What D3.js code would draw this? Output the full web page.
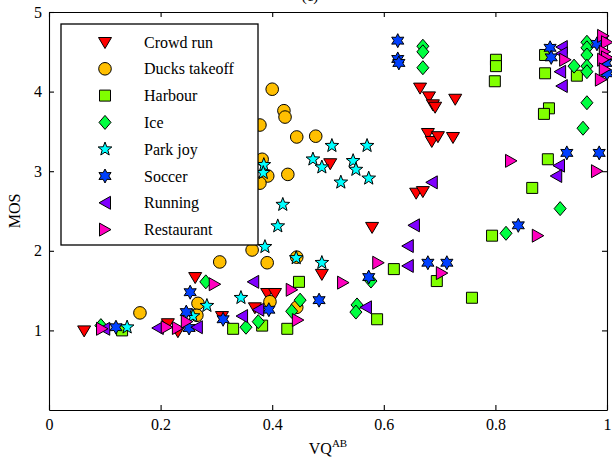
<!DOCTYPE html>
<html>
<head>
<meta charset="utf-8">
<script src="https://cdn.jsdelivr.net/npm/d3@7"></script>
<style>
  html, body { margin: 0; padding: 0; background: #fff; }
  svg { display: block; font-family: 'Liberation Serif', 'Times New Roman', serif; }
  .axis path, .axis line { stroke: #000; stroke-width: 1.1; }
  .axis text { font-size: 16px; fill: #000; font-family: 'Liberation Serif', 'Times New Roman', serif; }
</style>
</head>
<body>
<svg id="chart" width="612" height="463"></svg>
<script>
// series names, in legend order
const categories = ['Crowd run', 'Ducks takeoff', 'Harbour', 'Ice', 'Park joy', 'Soccer', 'Running', 'Restaurant']

// [VQ^AB, MOS] pairs
const crowdRun = [
  [0.063, 1.00], [0.213, 1.09], [0.231, 0.99], [0.262, 1.67], [0.310, 1.18], [0.369, 1.29],
  [0.391, 1.47], [0.405, 1.47], [0.489, 1.71], [0.504, 3.10], [0.579, 2.30], [0.665, 4.05],
  [0.681, 3.94], [0.688, 3.84], [0.692, 3.81], [0.728, 3.91], [0.679, 3.48], [0.686, 3.38],
  [0.697, 3.44], [0.724, 3.43], [0.658, 2.73], [0.670, 2.75]
]
const ducksTakeoff = [
  [0.163, 1.22], [0.267, 1.34], [0.265, 1.19], [0.306, 1.86], [0.364, 2.01], [0.391, 1.85],
  [0.444, 1.92], [0.396, 1.36], [0.444, 1.29], [0.378, 3.58], [0.400, 4.03], [0.421, 3.76],
  [0.423, 3.68], [0.444, 3.43], [0.478, 3.44], [0.382, 3.15], [0.392, 2.94], [0.378, 2.85],
  [0.428, 2.96]
]
const harbour = [
  [0.131, 1.00], [0.330, 1.02], [0.382, 1.06], [0.427, 1.02], [0.448, 1.61], [0.588, 1.14],
  [0.618, 1.77], [0.695, 1.62], [0.758, 1.41], [0.794, 2.19], [0.866, 2.79], [0.894, 3.15],
  [0.801, 4.40], [0.801, 4.32], [0.799, 4.13], [0.889, 4.46], [0.889, 4.23], [0.946, 4.20],
  [0.896, 3.79], [0.887, 3.72]
]
const ice = [
  [0.093, 1.06], [0.281, 1.61], [0.353, 1.04], [0.375, 1.11], [0.450, 1.38], [0.435, 1.24],
  [0.552, 1.32], [0.550, 1.23], [0.577, 1.62], [0.670, 4.57], [0.670, 4.50], [0.670, 4.30],
  [0.941, 4.32], [0.964, 4.62], [0.964, 4.55], [0.964, 4.46], [0.964, 4.32], [0.964, 4.25],
  [0.964, 3.86], [0.957, 3.54], [0.819, 2.22], [0.916, 2.53]
]
const parkJoy = [
  [0.140, 1.04], [0.258, 1.18], [0.283, 1.31], [0.344, 1.41], [0.387, 2.05], [0.410, 2.31],
  [0.419, 2.58], [0.443, 1.91], [0.489, 1.85], [0.385, 3.08], [0.384, 2.98], [0.473, 3.15],
  [0.489, 3.05], [0.507, 3.32], [0.545, 3.13], [0.550, 3.02], [0.523, 2.86], [0.570, 3.32],
  [0.573, 2.91]
]
const soccer = [
  [0.120, 1.04], [0.253, 1.48], [0.246, 1.23], [0.251, 1.03], [0.312, 1.14], [0.394, 1.26],
  [0.484, 1.38], [0.573, 1.67], [0.679, 1.85], [0.713, 1.85], [0.841, 2.32], [0.928, 3.23],
  [0.986, 3.23], [0.625, 4.64], [0.625, 4.41], [0.627, 4.36], [0.898, 4.55], [0.900, 4.43],
  [0.982, 4.60], [0.998, 4.36], [1.000, 4.23]
]
const running = [
  [0.099, 1.02], [0.195, 1.03], [0.265, 1.04], [0.346, 1.18], [0.366, 1.61], [0.375, 1.26],
  [0.568, 1.29], [0.643, 2.06], [0.643, 1.81], [0.686, 2.86], [0.654, 2.32], [0.914, 3.07],
  [0.909, 2.94], [0.919, 4.56], [0.919, 4.48], [0.916, 4.25], [0.919, 4.07]
]
const restaurant = [
  [0.095, 1.02], [0.211, 1.04], [0.231, 1.03], [0.247, 1.11], [0.297, 1.58], [0.435, 1.51],
  [0.446, 1.13], [0.527, 1.60], [0.590, 1.85], [0.704, 1.72], [0.828, 3.13], [0.876, 2.19],
  [0.982, 3.00], [0.925, 4.40], [0.993, 4.70], [1.000, 4.62], [0.996, 4.50], [1.000, 4.43],
  [0.993, 4.40], [0.996, 4.28], [0.989, 4.15]
]
const seriesValues = [crowdRun, ducksTakeoff, harbour, ice, parkJoy, soccer, running, restaurant]

const xTickValues = [0, 0.2, 0.4, 0.6, 0.8, 1]
const yTickValues = [1, 2, 3, 4, 5]

// hsv(8) colours and marker shapes, one per series
const colors = ['#ff0000', '#ffbf00', '#80ff00', '#00ff40', '#00ffff', '#0040ff', '#8000ff', '#ff00bf']
const shapes = ['down', 'circle', 'square', 'diamond', 'star5', 'star6', 'left', 'right']

const starPath = (points, outer, inner) => {
  const pts = d3.range(points * 2).map(i => {
    const r = i % 2 === 0 ? outer : inner
    const a = -Math.PI / 2 + i * Math.PI / points
    return [r * Math.cos(a), r * Math.sin(a)]
  })
  return 'M' + pts.map(p => p[0].toFixed(2) + ',' + p[1].toFixed(2)).join('L') + 'Z'
}

const markerPath = shape => {
  switch (shape) {
    case 'down': return 'M-6.5,-4.5L6.5,-4.5L0,6.5Z'
    case 'left': return 'M-6,0L5.5,-6.5L5.5,6.5Z'
    case 'right': return 'M6,0L-5.5,-6.5L-5.5,6.5Z'
    case 'circle': return d3.symbol(d3.symbolCircle, Math.PI * 6.3 * 6.3)()
    case 'square': return 'M-5.5,-5.5H5.5V5.5H-5.5Z'
    case 'diamond': return 'M0,-7L6,0L0,7L-6,0Z'
    case 'star5': return starPath(5, 7.2, 3)
    case 'star6': return starPath(6, 7, 3.8)
  }
}

const svg = d3.select('#chart')
const width = +svg.attr('width')
const height = +svg.attr('height')
const margin = { top: 12, right: 5, bottom: 53, left: 49 }
const innerWidth = width - margin.left - margin.right
const innerHeight = height - margin.top - margin.bottom

const g = svg.append('g')
  .attr('transform', `translate(${ margin.left }, ${ margin.top })`)

// scales
const xScale = d3.scaleLinear().domain([0, 1]).range([0, innerWidth])
const yScale = d3.scaleLinear().domain([0, 5]).range([innerHeight, 0])

// axes, ticks pointing inwards on all four sides
const tickSize = -5
const dropText = sel => sel.selectAll('text').remove()
g.append('g')
  .attr('class', 'axis')
  .attr('transform', `translate(0, ${ innerHeight })`)
  .call(d3.axisBottom(xScale).tickValues(xTickValues).tickFormat(d => d)
    .tickSizeInner(tickSize).tickSizeOuter(0).tickPadding(9))
g.append('g')
  .attr('class', 'axis')
  .call(d3.axisTop(xScale).tickValues(xTickValues)
    .tickSizeInner(tickSize).tickSizeOuter(0))
  .call(dropText)
g.append('g')
  .attr('class', 'axis')
  .call(d3.axisLeft(yScale).tickValues(yTickValues).tickFormat(d => d)
    .tickSizeInner(tickSize).tickSizeOuter(0).tickPadding(7))
g.append('g')
  .attr('class', 'axis')
  .attr('transform', `translate(${ innerWidth }, 0)`)
  .call(d3.axisRight(yScale).tickValues(yTickValues)
    .tickSizeInner(tickSize).tickSizeOuter(0))
  .call(dropText)

// axis labels
const xLabel = svg.append('text')
  .attr('x', margin.left + innerWidth / 2)
  .attr('y', 454)
  .attr('text-anchor', 'middle')
  .style('font-size', '16px')
xLabel.append('tspan').text('VQ')
xLabel.append('tspan').attr('dy', -7).style('font-size', '11px').text('AB')

svg.append('text')
  .attr('transform', 'rotate(-90)')
  .attr('x', -(margin.top + innerHeight / 2))
  .attr('y', 20)
  .attr('text-anchor', 'middle')
  .style('font-size', '16px')
  .text('MOS')

// title, mostly cut off at the top edge as in the original
svg.append('text')
  .attr('x', 310)
  .attr('y', 1)
  .attr('text-anchor', 'middle')
  .style('font-size', '15px')
  .text('(c)')

// points
seriesValues.forEach((values, i) => {
  g.append('g')
    .attr('class', 'series')
    .selectAll('path')
    .data(values)
    .enter()
    .append('path')
    .attr('transform', d => `translate(${ xScale(d[0]) }, ${ yScale(d[1]) })`)
    .attr('d', markerPath(shapes[i]))
    .style('fill', colors[i])
    .style('stroke', '#000')
    .style('stroke-width', 1)
})

// legend, drawn over the points
const legend = svg.append('g').attr('class', 'legend')
legend.append('rect')
  .attr('x', 61)
  .attr('y', 24)
  .attr('width', 197)
  .attr('height', 221)
  .style('fill', '#fff')
  .style('stroke', '#000')
  .style('stroke-width', 1.3)
categories.forEach((name, i) => {
  const y = 42 + i * 26.8
  legend.append('path')
    .attr('transform', `translate(105, ${ y })`)
    .attr('d', markerPath(shapes[i]))
    .style('fill', colors[i])
    .style('stroke', '#000')
  legend.append('text')
    .attr('x', 144)
    .attr('y', y + 5.5)
    .style('font-size', '16px')
    .text(name)
})
</script>
</body>
</html>
